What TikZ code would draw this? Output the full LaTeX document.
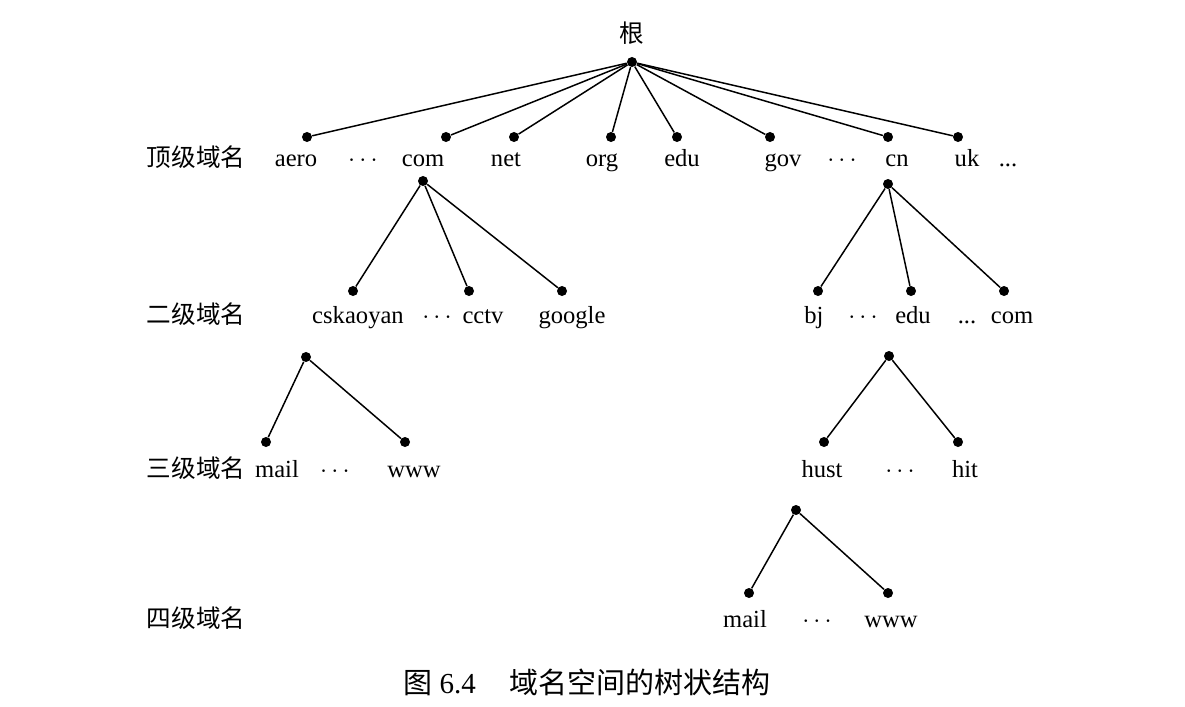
\documentclass[tikz,border=0pt]{standalone}
\usepackage{fontspec}
\setmainfont{Liberation Serif}
\newfontfamily\cjk{Noto Sans CJK SC}
\usepackage{tikz}
\usetikzlibrary{positioning}
\tikzset{
  dot/.style={circle,fill=black,draw=none,inner sep=0pt,minimum size=5.7pt},
  word/.style={anchor=base,inner sep=0pt,font=\fontsize{14pt}{16pt}\selectfont},
  lvl/.style={word,font=\fontsize{14pt}{16pt}\selectfont\cjk},
  caption/.style={anchor=base west,inner sep=0pt,font=\fontsize{16.5pt}{19pt}\selectfont},
  edge/.style={line width=0.85pt,draw=black},
}

\begin{document}
\begin{tikzpicture}[x=0.02cm,y=-0.02cm]
  \useasboundingbox (0,0) rectangle (1185,706);
  % root
  \node[lvl] (root-t) at (632,43) {根};
  \node[dot] (root) at (632,62) {};
  % level names
  \node[lvl] (lvl1) at (196,166) {顶级域名};
  \node[lvl] (lvl2) at (196,323) {二级域名};
  \node[lvl] (lvl3) at (196,477) {三级域名};
  \node[lvl] (lvl4) at (196,627) {四级域名};
  % top level
  \node[word] (aero-t) at (296,166) {aero};
  \node[word] (gap1-t) at (363,166) {$\cdots$};
  \node[word] (com-t) at (423,166) {com};
  \node[word] (net-t) at (506,166) {net};
  \node[word] (org-t) at (602,166) {org};
  \node[word] (edu-t) at (682,166) {edu};
  \node[word] (gov-t) at (783,166) {gov};
  \node[word] (gap2-t) at (842,166) {$\cdots$};
  \node[word] (cn-t) at (897,166) {cn};
  \node[word] (uk-t) at (967,166) {uk};
  \node[word] (gap3-t) at (1008,166) {...};
  \node[dot] (aero) at (307,137) {};
  \node[dot] (com) at (446,137) {};
  \node[dot] (net) at (514,137) {};
  \node[dot] (org) at (611,137) {};
  \node[dot] (edu) at (677,137) {};
  \node[dot] (gov) at (770,137) {};
  \node[dot] (cn) at (888,137) {};
  \node[dot] (uk) at (958,137) {};
  \foreach \n in {aero,com,net,org,edu,gov,cn,uk}
    \draw[edge] (root) -- (\n);
  % second level under com
  \node[dot] (com-s) at (423,181) {};
  \node[dot] (cskaoyan) at (353,291) {};
  \node[dot] (cctv) at (469,291) {};
  \node[dot] (google) at (562,291) {};
  \node[word] (cskaoyan-t) at (358,323) {cskaoyan};
  \node[word] (gap4-t) at (437,323) {$\cdots$};
  \node[word] (cctv-t) at (483,323) {cctv};
  \node[word] (google-t) at (572,323) {google};
  \foreach \n in {cskaoyan,cctv,google}
    \draw[edge] (com-s) -- (\n);
  % second level under cn
  \node[dot] (cn-s) at (888,184) {};
  \node[dot] (bj) at (818,291) {};
  \node[dot] (cnedu) at (911,291) {};
  \node[dot] (cncom) at (1004,291) {};
  \node[word] (bj-t) at (814,323) {bj};
  \node[word] (gap5-t) at (863,323) {$\cdots$};
  \node[word] (cnedu-t) at (913,323) {edu};
  \node[word] (gap6-t) at (967,323) {...};
  \node[word] (cncom-t) at (1012,323) {com};
  \foreach \n in {bj,cnedu,cncom}
    \draw[edge] (cn-s) -- (\n);
  % third level under cskaoyan
  \node[dot] (cskaoyan-s) at (306,357) {};
  \node[dot] (mail) at (266,442) {};
  \node[dot] (www) at (405,442) {};
  \node[word] (mail-t) at (277,477) {mail};
  \node[word] (gap7-t) at (335,477) {$\cdots$};
  \node[word] (www-t) at (414,477) {www};
  \draw[edge] (cskaoyan-s) -- (mail);
  \draw[edge] (cskaoyan-s) -- (www);
  % third level under edu.cn
  \node[dot] (cnedu-s) at (889,356) {};
  \node[dot] (hust) at (824,442) {};
  \node[dot] (hit) at (958,442) {};
  \node[word] (hust-t) at (822,477) {hust};
  \node[word] (gap8-t) at (900,477) {$\cdots$};
  \node[word] (hit-t) at (965,477) {hit};
  \draw[edge] (cnedu-s) -- (hust);
  \draw[edge] (cnedu-s) -- (hit);
  % fourth level under hust
  \node[dot] (hust-s) at (796,510) {};
  \node[dot] (hmail) at (749,593) {};
  \node[dot] (hwww) at (888,593) {};
  \node[word] (hmail-t) at (745,627) {mail};
  \node[word] (gap9-t) at (817,627) {$\cdots$};
  \node[word] (hwww-t) at (891,627) {www};
  \draw[edge] (hust-s) -- (hmail);
  \draw[edge] (hust-s) -- (hwww);
  % caption
  \node[caption] (cap) at (403,693) {{\cjk 图}~6.4\hspace{1.15em}{\cjk 域名空间的树状结构}};
\end{tikzpicture}
\end{document}
